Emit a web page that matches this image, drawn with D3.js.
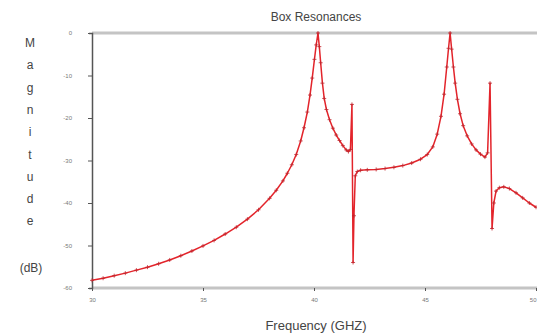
<!DOCTYPE html>
<html>
<head>
<meta charset="utf-8">
<script src="https://d3js.org/d3.v7.min.js"></script>
<style>
  body { margin: 0; background: #fff; }
  svg { display: block; font-family: 'Liberation Sans', Arial, sans-serif; }
</style>
</head>
<body>
<div id="chart"></div>
<script>
// Box resonance sweep
const freqGHz = [
  30.0, 30.5, 31.0, 31.5, 32.0, 32.5, 33.0, 33.5, 34.0, 34.5,
  35.0, 35.5, 36.0, 36.5, 37.0, 37.5, 38.0, 38.3, 38.6, 38.8,
  39.0, 39.2, 39.4, 39.55, 39.7, 39.82, 39.92, 40.02, 40.1, 40.18,
  40.24, 40.3, 40.38, 40.46, 40.56, 40.7, 40.85, 41.0, 41.15, 41.3,
  41.45, 41.55, 41.64, 41.71, 41.76, 41.8, 41.86, 41.95, 42.1, 42.4,
  42.8, 43.2, 43.6, 44.0, 44.4, 44.8, 45.1, 45.35, 45.55, 45.72,
  45.86, 45.98, 46.06, 46.13, 46.2, 46.28, 46.36, 46.46, 46.58, 46.72,
  46.9, 47.1, 47.3, 47.5, 47.7, 47.82, 47.93, 48.02, 48.1, 48.2,
  48.35, 48.55, 48.8, 49.1, 49.4, 49.7, 50.0
];
const magDB = [
  -58.2, -57.7, -57.1, -56.5, -55.8, -55.1, -54.3, -53.4, -52.4, -51.3,
  -50.1, -48.8, -47.3, -45.7, -43.8, -41.6, -38.9, -37.0, -34.8, -33.0,
  -31.0, -28.6, -25.4, -22.3, -18.6, -14.6, -10.6, -6.2, -2.8, 0.0,
  -3.2, -7.0, -11.8, -15.4, -18.0, -20.4, -22.4, -24.0, -25.3, -26.5,
  -27.5, -27.9, -27.4, -16.8, -54.0, -43.0, -33.6, -32.6, -32.3, -32.2,
  -32.1, -31.9, -31.6, -31.2, -30.6, -29.7, -28.6, -26.8, -23.8, -19.6,
  -14.4, -8.0, -3.6, 0.0, -3.8, -8.0, -11.8, -15.6, -19.0, -21.8,
  -24.2, -26.1, -27.5, -28.5, -29.2, -28.2, -11.8, -46.0, -40.0, -37.2,
  -36.4, -36.2, -36.6, -37.6, -38.8, -40.0, -41.0
];
const xTicks = [30, 35, 40, 45, 50];
const yTicks = [0, -10, -20, -30, -40, -50, -60];
const yLabelLetters = ['M', 'a', 'g', 'n', 'i', 't', 'u', 'd', 'e'];

const width = 537, height = 335;
const margin = { top: 33, right: 1, bottom: 47, left: 92 };

const svg = d3.select('#chart').append('svg')
  .attr('width', width)
  .attr('height', height);

const x = d3.scaleLinear().domain([30, 50]).range([margin.left, width - margin.right]);
const y = d3.scaleLinear().domain([-60, 0]).range([height - margin.bottom, margin.top]);

// top frame line and bottom axis bar
svg.append('line')
  .attr('x1', margin.left).attr('x2', width)
  .attr('y1', y(0)).attr('y2', y(0))
  .style('stroke', '#c4c4c4').style('stroke-width', 3);

svg.append('line')
  .attr('x1', margin.left).attr('x2', width)
  .attr('y1', y(-60)).attr('y2', y(-60))
  .style('stroke', '#c4c4c4').style('stroke-width', 3);

// Axes
const xAxis = d3.axisBottom(x).tickValues(xTicks).tickSize(3).tickFormat(d => d);
const yAxis = d3.axisLeft(y).tickValues(yTicks).tickSize(3).tickFormat(d => d);

const gx = svg.append('g')
  .attr('transform', `translate(0,${y(-60)})`)
  .call(xAxis);
gx.select('.domain').remove();
gx.selectAll('.tick line').style('stroke', '#555');
gx.selectAll('.tick text')
  .attr('dy', '1.3em')
  .style('font-size', '6px')
  .style('fill', '#777')
  .attr('text-anchor', (d, i) => i === xTicks.length - 1 ? 'end' : 'middle');

const gy = svg.append('g')
  .attr('transform', `translate(${margin.left},0)`)
  .call(yAxis);
gy.select('.domain').style('stroke', '#555').style('stroke-width', 1.5);
gy.selectAll('.tick line').attr('x2', -4).attr('x1', 1).style('stroke', '#555');
gy.selectAll('.tick text')
  .attr('x', -20)
  .style('font-size', '6px')
  .style('fill', '#777');

// Curve
const pts = freqGHz.map((f, i) => ({ f, db: magDB[i] }));

const line = d3.line()
  .x(d => x(d.f))
  .y(d => y(d.db));

svg.append('path')
  .datum(pts)
  .attr('d', line)
  .style('fill', 'none')
  .style('stroke', '#e3242b')
  .style('stroke-width', 1.5)
  .style('stroke-linejoin', 'round');

// plus markers at every sample
svg.append('g')
  .selectAll('path')
  .data(pts)
  .enter()
  .append('path')
  .attr('d', d => {
    const px = x(d.f), py = y(d.db);
    return `M${px - 2},${py}H${px + 2}M${px},${py - 2}V${py + 2}`;
  })
  .style('stroke', '#c0242c')
  .style('stroke-width', 0.8);

// Title
svg.append('text')
  .attr('x', 316)
  .attr('y', 21)
  .attr('text-anchor', 'middle')
  .style('font-size', '12px')
  .style('fill', '#444')
  .text('Box Resonances');

// X label
svg.append('text')
  .attr('x', 316)
  .attr('y', 330)
  .attr('text-anchor', 'middle')
  .style('font-size', '13px')
  .style('fill', '#444')
  .text('Frequency (GHZ)');

// Y label, stacked letters
svg.append('g')
  .selectAll('text')
  .data(yLabelLetters)
  .enter()
  .append('text')
  .attr('x', 30)
  .attr('y', (d, i) => 47 + i * 22.3)
  .attr('text-anchor', 'middle')
  .style('font-size', '12px')
  .style('fill', '#444')
  .text(d => d);

svg.append('text')
  .attr('x', 31)
  .attr('y', 272)
  .attr('text-anchor', 'middle')
  .style('font-size', '12px')
  .style('fill', '#444')
  .text('(dB)');
</script>
</body>
</html>
